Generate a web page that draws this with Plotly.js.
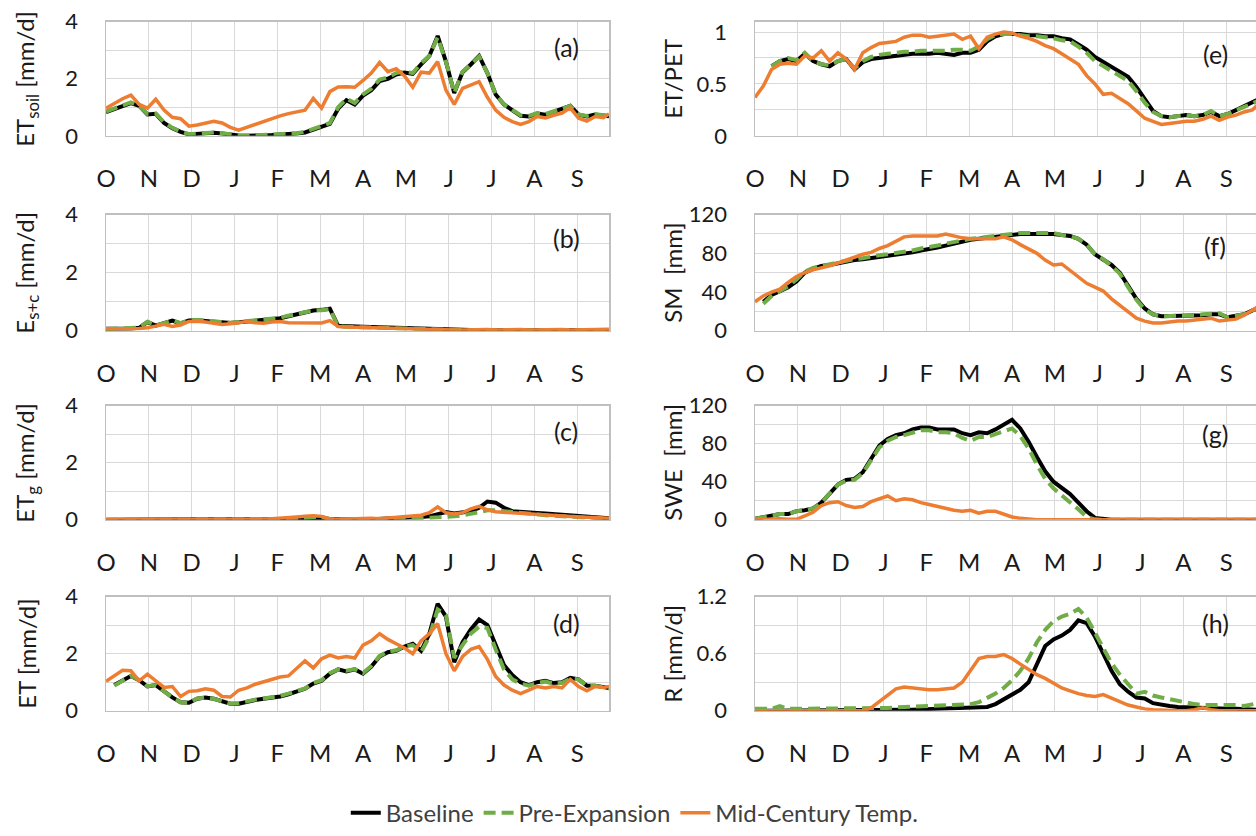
<!DOCTYPE html>
<html><head><meta charset="utf-8">
<script src="https://cdn.plot.ly/plotly-3.0.1.min.js"></script>
<style>html,body{margin:0;padding:0;overflow:hidden;background:#fff}#chart{width:1262px;height:836px}</style>
</head><body><div id="chart"></div>
<script>
// x positions: day index within the water year (Oct 1 = 0); axis ticks every 31 days
const days = [0,6,12,18,24,30,36,42,48,54,60,66,72,78,84,90,96,102,108,114,120,126,132,138,144,150,156,162,168,174,180,186,192,198,204,210,216,222,228,234,240,246,252,258,264,270,276,282,288,294,300,306,312,318,324,330,336,342,348,354,360,364];
const monthTickDays = [0,31,62,93,124,155,186,217,248,279,310,341];
const monthLabels = ['O','N','D','J','F','M','A','M','J','J','A','S'];
const seriesNames = ['Baseline','Pre-Expansion','Mid-Century Temp.'];

// (a) ET_soil [mm/d]
const etSoilBaseline = [0.83,0.93,1.03,1.15,1.05,0.75,0.77,0.45,0.27,0.14,0.05,0.06,0.10,0.11,0.08,0.04,0.01,0.00,0.00,0.02,0.03,0.05,0.06,0.08,0.12,0.22,0.33,0.42,0.95,1.25,1.10,1.41,1.60,1.92,2.00,2.15,2.22,2.17,2.50,2.80,3.50,2.60,1.50,2.23,2.50,2.80,2.20,1.45,1.10,0.90,0.70,0.68,0.78,0.74,0.85,0.97,1.05,0.74,0.68,0.75,0.72,0.69];
const etSoilPre = [0.85,0.95,1.05,1.17,1.05,0.77,0.78,0.47,0.28,0.15,0.06,0.08,0.12,0.12,0.09,0.05,0.02,0.01,0.01,0.02,0.04,0.06,0.07,0.09,0.14,0.25,0.36,0.45,1.00,1.30,1.15,1.45,1.65,1.97,2.05,2.20,2.25,2.20,2.55,2.80,3.45,2.60,1.50,2.25,2.50,2.78,2.20,1.45,1.10,0.90,0.72,0.70,0.80,0.76,0.86,0.98,1.05,0.75,0.70,0.76,0.73,0.70];
const etSoilMid = [0.97,1.15,1.30,1.43,1.10,0.97,1.28,0.90,0.65,0.60,0.34,0.38,0.46,0.51,0.45,0.30,0.20,0.30,0.42,0.51,0.60,0.70,0.78,0.84,0.90,1.31,0.97,1.55,1.71,1.72,1.70,1.94,2.20,2.57,2.25,2.35,2.10,1.70,2.23,2.20,2.60,1.60,1.10,1.66,1.78,1.90,1.35,0.90,0.65,0.50,0.40,0.50,0.68,0.63,0.72,0.80,0.98,0.62,0.52,0.68,0.64,0.77];

// (b) E_s+c [mm/d]
const escBaseline = [0.07,0.07,0.06,0.08,0.10,0.30,0.18,0.25,0.35,0.25,0.35,0.36,0.35,0.31,0.29,0.27,0.29,0.32,0.36,0.38,0.41,0.43,0.50,0.56,0.62,0.70,0.72,0.76,0.17,0.15,0.15,0.14,0.13,0.12,0.11,0.10,0.10,0.09,0.07,0.05,0.05,0.04,0.03,0.03,0.03,0.02,0.03,0.02,0.03,0.02,0.03,0.02,0.03,0.03,0.02,0.03,0.03,0.02,0.03,0.03,0.03,0.03];
const escPre = [0.06,0.07,0.07,0.09,0.11,0.31,0.19,0.26,0.36,0.26,0.36,0.37,0.35,0.32,0.30,0.28,0.30,0.33,0.37,0.39,0.42,0.45,0.52,0.57,0.63,0.70,0.71,0.75,0.15,0.13,0.13,0.12,0.11,0.10,0.09,0.08,0.08,0.07,0.06,0.04,0.04,0.03,0.02,0.02,0.02,0.02,0.02,0.02,0.02,0.02,0.02,0.02,0.02,0.02,0.02,0.02,0.02,0.02,0.02,0.02,0.02,0.02];
const escMid = [0.07,0.07,0.06,0.07,0.08,0.10,0.15,0.22,0.15,0.20,0.32,0.33,0.30,0.25,0.22,0.24,0.28,0.32,0.28,0.26,0.30,0.32,0.28,0.27,0.28,0.25,0.27,0.35,0.15,0.13,0.12,0.12,0.12,0.11,0.10,0.09,0.08,0.08,0.07,0.06,0.05,0.04,0.03,0.03,0.04,0.03,0.04,0.03,0.04,0.03,0.04,0.03,0.04,0.04,0.03,0.04,0.03,0.04,0.04,0.05,0.04,0.05];

// (c) ET_g [mm/d]
const etgBaseline = [0,0,0,0,0,0,0,0,0,0,0,0,0,0,0,0,0,0,0.01,0.01,0.01,0.01,0.02,0.03,0.04,0.05,0.06,0.03,0.02,0.02,0.02,0.02,0.02,0.03,0.03,0.04,0.05,0.07,0.10,0.12,0.20,0.27,0.22,0.25,0.30,0.42,0.64,0.60,0.42,0.30,0.27,0.25,0.24,0.22,0.20,0.18,0.16,0.14,0.12,0.10,0.07,0.05];
const etgPre = [0,0,0,0,0,0,0,0,0,0,0,0,0,0,0,0,0,0,0,0,0,0.01,0.03,0.05,0.08,0.10,0.10,0.02,0.01,0.01,0.01,0.01,0.01,0.02,0.02,0.03,0.03,0.04,0.05,0.06,0.08,0.10,0.12,0.15,0.20,0.28,0.33,0.33,0.30,0.25,0.22,0.20,0.18,0.16,0.14,0.12,0.11,0.10,0.08,0.07,0.05,0.04];
const etgMid = [0,0,0,0,0,0,0,0,0,0,0,0,0,0,0,0.01,0.01,0.02,0.02,0.03,0.04,0.05,0.07,0.10,0.12,0.14,0.12,0.03,0.02,0.03,0.05,0.06,0.05,0.04,0.06,0.10,0.12,0.15,0.16,0.25,0.45,0.25,0.20,0.25,0.38,0.47,0.35,0.28,0.26,0.25,0.22,0.20,0.18,0.16,0.13,0.12,0.11,0.10,0.09,0.07,0.06,0.05];

// (d) ET [mm/d]
const etBaseline = [null,0.90,1.05,1.22,1.07,0.85,0.90,0.68,0.47,0.30,0.28,0.42,0.46,0.42,0.34,0.25,0.25,0.33,0.38,0.42,0.46,0.50,0.58,0.67,0.77,0.95,1.05,1.30,1.45,1.38,1.45,1.30,1.55,1.90,2.05,2.10,2.25,2.35,2.10,2.70,3.75,3.30,1.70,2.40,2.85,3.20,3.00,2.30,1.60,1.25,1.00,0.90,1.00,1.05,0.97,1.00,1.15,1.10,0.88,0.88,0.85,0.80];
const etPre = [null,0.88,1.05,1.22,1.08,0.86,0.90,0.68,0.46,0.30,0.28,0.43,0.46,0.42,0.33,0.25,0.26,0.34,0.39,0.43,0.47,0.52,0.60,0.69,0.78,0.97,1.07,1.32,1.45,1.40,1.46,1.32,1.57,1.92,2.07,2.12,2.25,2.30,2.05,2.60,3.55,3.35,1.85,2.30,2.70,2.95,2.90,2.15,1.45,1.10,0.95,0.88,0.97,1.02,0.95,0.98,1.12,1.10,0.87,0.88,0.82,0.78];
const etMid = [1.03,1.22,1.42,1.40,1.05,1.28,1.05,0.82,0.85,0.50,0.68,0.70,0.77,0.72,0.50,0.48,0.72,0.80,0.93,1.02,1.12,1.18,1.22,1.50,1.75,1.50,1.82,1.95,1.85,1.90,1.85,2.30,2.45,2.70,2.50,2.35,2.20,2.00,2.45,2.70,3.05,2.00,1.40,1.90,2.15,2.25,1.80,1.20,0.90,0.72,0.60,0.72,0.85,0.80,0.85,0.80,1.10,0.85,0.70,0.85,0.82,0.85];

// (e) ET/PET
const etPetBaseline = [null,null,0.67,0.72,0.74,0.72,0.79,0.72,0.69,0.67,0.72,0.74,0.64,0.71,0.74,0.75,0.76,0.77,0.78,0.79,0.79,0.79,0.80,0.79,0.78,0.80,0.80,0.83,0.91,0.96,0.98,0.98,0.98,0.97,0.97,0.96,0.96,0.94,0.93,0.88,0.83,0.76,0.71,0.66,0.62,0.57,0.47,0.35,0.24,0.19,0.18,0.19,0.20,0.19,0.20,0.23,0.19,0.21,0.25,0.29,0.32,0.35];
const etPetPre = [null,null,0.67,0.72,0.75,0.73,0.80,0.72,0.69,0.68,0.72,0.74,0.65,0.72,0.76,0.78,0.79,0.80,0.81,0.81,0.82,0.82,0.82,0.82,0.83,0.83,0.82,0.86,0.93,0.97,0.98,0.98,0.97,0.96,0.96,0.95,0.94,0.92,0.91,0.86,0.80,0.72,0.67,0.62,0.58,0.53,0.43,0.32,0.23,0.19,0.18,0.19,0.20,0.19,0.20,0.24,0.19,0.21,0.25,0.28,0.31,0.34];
const etPetMid = [0.37,0.48,0.64,0.69,0.70,0.69,0.77,0.75,0.82,0.72,0.80,0.74,0.64,0.80,0.85,0.89,0.90,0.91,0.95,0.97,0.97,0.95,0.96,0.97,0.98,0.93,0.96,0.84,0.95,0.98,1.00,0.99,0.96,0.94,0.91,0.87,0.84,0.79,0.74,0.69,0.58,0.50,0.40,0.41,0.36,0.31,0.24,0.17,0.14,0.11,0.12,0.13,0.14,0.14,0.16,0.19,0.15,0.18,0.20,0.23,0.25,0.30];

// (f) SM [mm]
const smBaseline = [null,30,37,41,45,51,60,64,67,68,70,71,73,74,75,77,77,78,79,81,83,84,86,88,90,93,94,95,96,98,99,99,100,100,100,101,100,99,98,95,89,79,74,68,60,46,33,23,17,15,15,15,16,16,16,17,17,14,15,17,21,23];
const smPre = [null,28,36,41,46,53,61,65,67,68,70,72,74,75,77,78,79,80,81,83,85,86,88,90,92,94,95,96,97,99,100,100,101,101,101,102,101,99,98,95,89,79,74,67,59,45,32,22,17,15,15,16,16,16,17,18,18,14,15,17,21,23];
const smMid = [30,36,40,43,50,56,60,63,65,67,70,73,76,79,81,85,88,93,97,98,98,98,98,100,98,96,95,95,95,95,97,94,89,84,80,73,68,69,62,55,49,45,41,33,26,20,13,10,8,8,9,10,10,11,12,13,10,11,12,16,21,25];

// (g) SWE [mm]
const sweBaseline = [1,3,5,6,6,9,10,12,18,27,37,42,43,50,65,78,85,89,91,95,97,97,95,95,95,91,89,92,91,95,100,105,96,82,66,51,40,33,27,18,9,2,0.5,0,0,0,0,0,0,0,0,0,0,0,0,0,0,0,0,0,0,0];
const swePre = [1,3,5,6,6,9,10,12,18,27,37,41,42,49,63,76,83,87,89,92,94,94,92,92,91,86,83,87,87,90,93,96,88,75,58,43,33,26,19,11,3,0.5,0,0,0,0,0,0,0,0,0,0,0,0,0,0,0,0,0,0,0,0];
const sweMid = [0,0.5,1,1,0.5,0.5,4,8,15,18,19,15,13,14,19,22,25,20,22,21,18,16,14,12,10,9,10,7,9,9,6,3,1.5,0.5,0,0,0,0,0,0,0,0,0,0,0,0,0,0,0,0,0,0,0,0,0,0,0,0,0,0,0,0];

// (h) R [mm/d]
const rBaseline = [0,0,0,0,0,0,0,0,0,0,0,0,0,0,0.002,0.004,0.006,0.008,0.01,0.012,0.014,0.016,0.018,0.02,0.022,0.025,0.028,0.03,0.04,0.07,0.12,0.18,0.22,0.30,0.50,0.68,0.75,0.79,0.85,0.95,0.92,0.78,0.60,0.42,0.28,0.20,0.14,0.13,0.08,0.06,0.05,0.04,0.035,0.03,0.03,0.025,0.02,0.02,0.02,0.015,0.01,0.01];
const rPre = [0.02,0.02,0.02,0.05,0.02,0.02,0.02,0.02,0.02,0.025,0.025,0.025,0.025,0.03,0.03,0.03,0.03,0.035,0.04,0.04,0.045,0.05,0.05,0.055,0.06,0.065,0.07,0.09,0.13,0.18,0.24,0.32,0.42,0.55,0.72,0.85,0.94,0.99,1.02,1.07,0.98,0.82,0.65,0.50,0.38,0.28,0.18,0.20,0.16,0.14,0.12,0.11,0.09,0.07,0.06,0.06,0.07,0.07,0.06,0.05,0.07,0.08];
const rMid = [0,0,0,0,0,0,0,0,0,0,0,0,0,0,0.03,0.10,0.17,0.23,0.25,0.24,0.23,0.22,0.22,0.23,0.24,0.30,0.43,0.55,0.57,0.57,0.59,0.55,0.49,0.43,0.38,0.34,0.29,0.24,0.21,0.18,0.16,0.15,0.17,0.13,0.10,0.06,0.04,0.02,0.01,0.005,0,0,0,0.01,0.03,0.01,0,0,0,0,0,0];

const W = 1262, H = 836;
const FONT = 'Lato, "Open Sans", sans-serif';
const colX = [[106, 609], [755, 1258]];
const rowY = [[22, 138], [218, 336], [412, 528], [606, 722]];
const titleX = [27, 673];

const panels = [
  {col:0,row:0,title:'ET<sub>soil</sub> [mm/d]',tag:'(a)',tagY:0.78,data:[etSoilBaseline,etSoilPre,etSoilMid],tv:[0,2,4],mv:[1,3],range:[0,4]},
  {col:0,row:1,title:'E<sub>s+c</sub> [mm/d]',tag:'(b)',tagY:0.80,data:[escBaseline,escPre,escMid],tv:[0,2,4],mv:[1,3],range:[0,4]},
  {col:0,row:2,title:'ET<sub>g</sub> [mm/d]',tag:'(c)',tagY:0.78,data:[etgBaseline,etgPre,etgMid],tv:[0,2,4],mv:[1,3],range:[0,4]},
  {col:0,row:3,title:'ET [mm/d]',tag:'(d)',tagY:0.77,data:[etBaseline,etPre,etMid],tv:[0,2,4],mv:[1,3],range:[0,4]},
  {col:1,row:0,title:'ET/PET',tag:'(e)',tagY:0.72,data:[etPetBaseline,etPetPre,etPetMid],tv:[0,0.5,1],mv:[0.25,0.75],range:[0,1.1]},
  {col:1,row:1,title:'SM&nbsp; [mm]',tag:'(f)',tagY:0.73,data:[smBaseline,smPre,smMid],tv:[0,40,80,120],mv:[20,60,100],range:[0,120]},
  {col:1,row:2,title:'SWE&nbsp; [mm]',tag:'(g)',tagY:0.75,data:[sweBaseline,swePre,sweMid],tv:[0,40,80,120],mv:[20,60,100],range:[0,120]},
  {col:1,row:3,title:'R [mm/d]',tag:'(h)',tagY:0.77,data:[rBaseline,rPre,rMid],tv:[0,0.6,1.2],mv:[0.3,0.9],range:[0,1.2]}
];

const styles = [
  {color:'#000000', width:4, dash:'solid'},
  {color:'#70AD47', width:4, dash:'12px,6px'},
  {color:'#ED7D31', width:3.5, dash:'solid'}
];

const traces = [];
const layout = {
  width: W, height: H,
  margin: {l:0, r:0, t:0, b:0},
  paper_bgcolor: '#ffffff', plot_bgcolor: '#ffffff',
  font: {family: FONT, color: '#1a1a1a'},
  showlegend: true,
  legend: {orientation:'h', x:0.503, xanchor:'center', y:(H-826)/H, yanchor:'middle',
           font:{family:FONT, size:24, color:'#404040'}, bgcolor:'rgba(0,0,0,0)', traceorder:'normal'},
  annotations: []
};

panels.forEach((p, i) => {
  const n = i + 1;
  const xa = 'xaxis' + (n === 1 ? '' : n);
  const ya = 'yaxis' + (n === 1 ? '' : n);
  const xr = 'x' + (n === 1 ? '' : n);
  const yr = 'y' + (n === 1 ? '' : n);
  const [x0, x1] = colX[p.col];
  const [yt, yb] = rowY[p.row];
  layout[xa] = {
    domain: [x0 / W, x1 / W], anchor: yr, range: [0, 364],
    tickmode: 'array', tickvals: monthTickDays, ticktext: monthLabels,
    showgrid: true, gridcolor: '#d9d9d9', gridwidth: 1, zeroline: false,
    showline: true, mirror: true, linecolor: '#bfbfbf', linewidth: 1.5,
    ticks: 'outside', ticklen: 21, tickcolor: 'rgba(0,0,0,0)',
    tickfont: {family: FONT, size: 24, color: '#1a1a1a'}, fixedrange: true
  };
  layout[ya] = {
    domain: [1 - yb / H, 1 - yt / H], anchor: xr, range: p.range,
    tickmode: 'array', tickvals: p.tv,
    minor: {tickmode: 'array', tickvals: p.mv, showgrid: true, gridcolor: '#d9d9d9', gridwidth: 1, ticks: ''},
    showgrid: true, gridcolor: '#d9d9d9', gridwidth: 1, zeroline: false,
    showline: true, mirror: true, linecolor: '#bfbfbf', linewidth: 1.5,
    ticks: 'outside', ticklen: 22, tickcolor: 'rgba(0,0,0,0)',
    tickfont: {family: FONT, size: 22, color: '#1a1a1a'}, fixedrange: true
  };
  p.data.forEach((arr, k) => {
    traces.push({
      type: 'scatter', mode: 'lines', x: days, y: arr,
      xaxis: xr, yaxis: yr, name: seriesNames[k], legendgroup: seriesNames[k],
      showlegend: n === 1, hoverinfo: 'skip', connectgaps: false,
      line: {color: styles[k].color, width: styles[k].width, dash: styles[k].dash}
    });
  });
  layout.annotations.push({
    xref: 'paper', yref: 'paper', x: titleX[p.col] / W, y: 1 - (yt + yb) / 2 / H,
    text: p.title, textangle: -90, showarrow: false, xanchor: 'center', yanchor: 'middle',
    font: {family: FONT, size: 24, color: '#1a1a1a'}
  });
  layout.annotations.push({
    xref: xr, yref: yr + ' domain', x: 333, y: p.tagY,
    text: p.tag, showarrow: false, xanchor: 'center', yanchor: 'middle',
    font: {family: FONT, size: 25, color: '#1a1a1a'}
  });
});

Plotly.newPlot('chart', traces, layout, {displayModeBar: false, staticPlot: true});
</script>
</body></html>
